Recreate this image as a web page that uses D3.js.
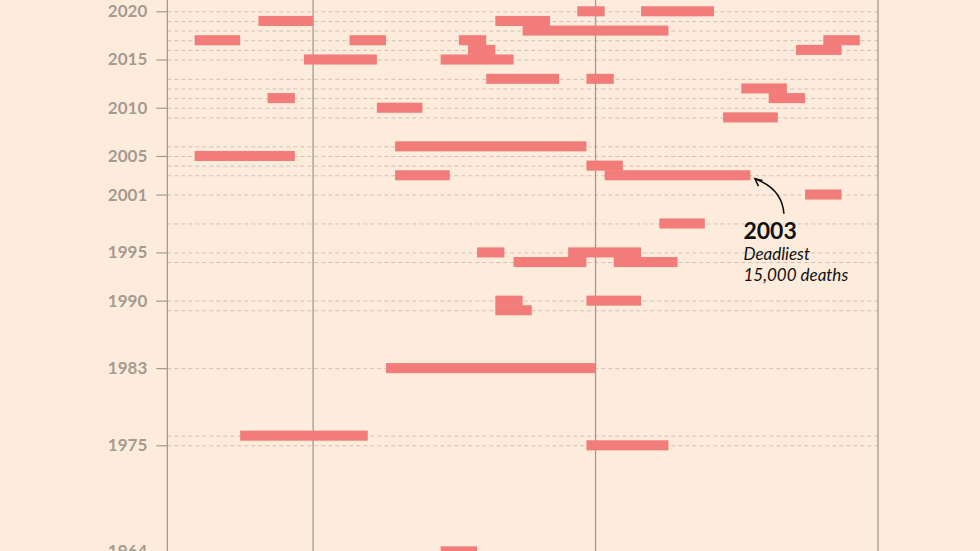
<!DOCTYPE html>
<html>
<head>
<meta charset="utf-8">
<script src="https://cdn.jsdelivr.net/npm/d3@7"></script>
<style>
  html, body { margin: 0; padding: 0; background: #fdecdc; }
  svg { display: block; }
</style>
</head>
<body>
<svg id="chart" width="980" height="551"></svg>
<script>
// ---- data (heatwave periods, start and end inclusive, MM-DD) ----
const years  = [2020, 2020, 2019, 2019, 2018, 2017, 2017, 2017, 2017, 2016, 2016, 2015, 2015,
                2013, 2013, 2012, 2011, 2011, 2010, 2009, 2006, 2005, 2004, 2003, 2003,
                2001, 1998, 1995, 1995, 1994, 1994, 1990, 1990, 1989, 1983, 1976, 1975, 1964];
const starts = ["07-30","08-06","06-25","07-21","07-24","06-18","07-05","07-17","08-26","07-18","08-23","06-30","07-15",
                "07-20","07-31","08-17","06-26","08-20","07-08","08-15","07-10","06-18","07-31","07-10","08-02",
                "08-24","08-08","07-19","07-29","07-23","08-03","07-21","07-31","07-21","07-09","06-23","07-31","07-15"];
const ends   = ["08-01","08-13","06-30","07-26","08-08","06-22","07-08","07-19","08-29","07-20","08-27","07-07","07-22",
                "07-27","08-02","08-21","06-28","08-23","07-12","08-20","07-30","06-28","08-03","07-15","08-17",
                "08-27","08-12","07-21","08-05","07-30","08-09","07-23","08-05","07-24","07-31","07-06","08-08","07-18"];
const yearTickLabels = [2020, 2015, 2010, 2005, 2001, 1995, 1990, 1983, 1975, 1964];
const monthLines = ["06-15", "07-01", "08-01", "09-01"];
const annotationYear = 2003;
const annotationTitle = "2003";
const annotationLines = ["Deadliest", "15,000 deaths"];

// ---- helpers ----
const REF = 2001;
const toDate = s => new Date(Date.UTC(REF, +s.slice(0, 2) - 1, +s.slice(3, 5)));
const nextDay = d => new Date(d.getTime() + 86400000);

const events = years.map((y, i) => ({ year: y, start: toDate(starts[i]), end: nextDay(toDate(ends[i])) }));
const gridYears = Array.from(new Set(years));

// ---- scales ----
const x = d3.scaleUtc()
  .domain([toDate("06-15"), toDate("09-01")])
  .range([167.3, 878]);
const y = d3.scaleLinear()
  .domain([2020, 1964])
  .range([11.3, 551.4]);
const step = Math.abs(y(2019) - y(2020));

const svg = d3.select("#chart");
svg.append("rect").attr("width", 980).attr("height", 551).attr("fill", "#fdecdc");

// dashed gridlines for each year with an event
const grid = svg.append("g")
  .attr("transform", `translate(${x.range()[0]},0)`)
  .call(d3.axisLeft(y).tickValues(gridYears).tickSize(-(x.range()[1] - x.range()[0])).tickFormat(""));
grid.select(".domain").remove();
grid.selectAll(".tick line")
  .attr("stroke", "#cfc2b5")
  .attr("stroke-width", 1)
  .attr("stroke-dasharray", "4,3");

// vertical month lines
svg.append("g").selectAll("line")
  .data(monthLines.map(toDate))
  .join("line")
  .attr("x1", d => x(d)).attr("x2", d => x(d))
  .attr("y1", 0).attr("y2", 551)
  .attr("stroke", "#a29b95")
  .attr("stroke-width", 1.3);

// y axis labels and ticks
const yAxis = svg.append("g")
  .attr("transform", `translate(${x.range()[0]},0)`)
  .call(d3.axisLeft(y).tickValues(yearTickLabels).tickSize(11).tickPadding(9).tickFormat(d3.format("d")));
yAxis.select(".domain").remove();
yAxis.selectAll(".tick line").attr("stroke", "#a39a90").attr("stroke-width", 1.2);
yAxis.selectAll(".tick text")
  .attr("fill", "#a69b90")
  .attr("font-family", "Lato, 'Noto Sans', sans-serif")
  .attr("font-weight", 700)
  .attr("font-size", 17);

// bars
svg.append("g").selectAll("rect")
  .data(events)
  .join("rect")
  .attr("x", d => x(d.start))
  .attr("width", d => x(d.end) - x(d.start))
  .attr("y", d => y(d.year) - step / 2 - 0.2)
  .attr("height", step + 0.4)
  .attr("fill", "#f17c79");

// annotation for 2003
const ann = events.filter(d => d.year === annotationYear).reduce((a, b) => (a.end > b.end ? a : b));
const ax = x(ann.end), ay = y(annotationYear);
const g = svg.append("g").attr("font-family", "Lato, 'Noto Sans', sans-serif").attr("fill", "#111");
g.append("text")
  .attr("x", ax - 7).attr("y", ay + 64)
  .attr("font-size", 23).attr("font-weight", 700)
  .text(annotationTitle);
g.selectAll("text.line")
  .data(annotationLines)
  .join("text")
  .attr("class", "line")
  .attr("x", ax - 7)
  .attr("y", (d, i) => ay + 84.5 + i * 21.5)
  .attr("font-size", 17)
  .attr("font-style", "italic")
  .text(d => d);

const tipX = ax + 4.5, tipY = ay + 3.5;
g.append("path")
  .attr("d", `M${tipX + 29},${tipY + 35} Q${tipX + 27},${tipY + 10} ${tipX + 1},${tipY + 0.5}`)
  .attr("fill", "none").attr("stroke", "#111").attr("stroke-width", 1.6);
g.append("path")
  .attr("d", `M${tipX + 7.5},${tipY + 1.8} L${tipX},${tipY} L${tipX + 3.5},${tipY + 7.3}`)
  .attr("fill", "none").attr("stroke", "#111").attr("stroke-width", 1.6)
  .attr("stroke-linejoin", "miter");
</script>
</body>
</html>
